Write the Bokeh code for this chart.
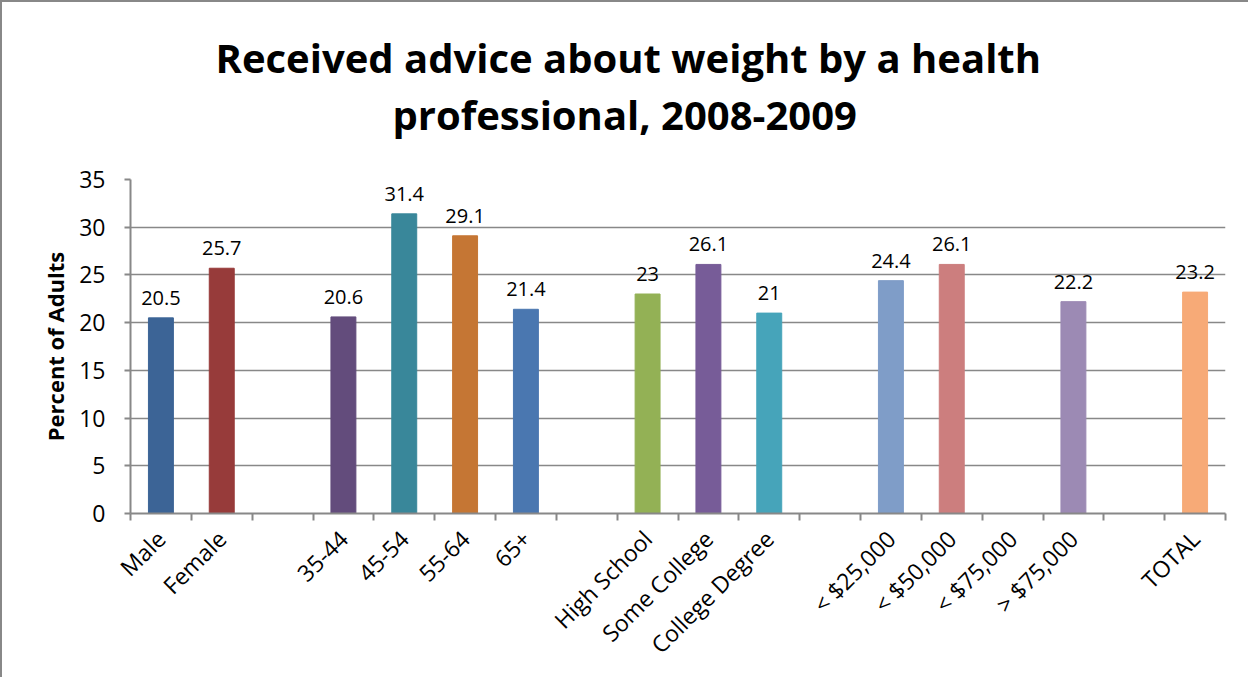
import math
from bokeh.plotting import figure
from bokeh.models import ColumnDataSource, FixedTicker, Title, LabelSet, Range1d
from bokeh.core.properties import value
from bokeh.embed import file_html
from bokeh.resources import INLINE

categories = ["Male", "Female", "", "35-44", "45-54", "55-64", "65+", "",
              "High School", "Some College", "College Degree", "",
              "< $25,000", "< $50,000", "< $75,000", "> $75,000", "", "TOTAL"]
percent = [20.5, 25.7, None, 20.6, 31.4, 29.1, 21.4, None,
           23, 26.1, 21, None,
           24.4, 26.1, None, 22.2, None, 23.2]
colors = ["#3C6496", "#973B3A", None, "#634C7C", "#39879A", "#C57634", "#4A77B0", None,
          "#93B155", "#775C98", "#46A4BA", None,
          "#7F9DC8", "#CC7E7E", None, "#9C8AB4", None, "#F7AA77"]
title_lines = ["Received advice about weight by a health", "professional, 2008-2009"]

y_ticks = [0, 5, 10, 15, 20, 25, 30, 35]

xs, ys, cs, labels = [], [], [], []
for i, v in enumerate(percent):
    if v is not None:
        xs.append(i)
        ys.append(v)
        cs.append(colors[i])
        labels.append(f"{v:g}")
src = ColumnDataSource(dict(x=xs, y=ys, color=cs, label=labels))

FONT = "Open Sans"
GRAY = "#888888"

p = figure(width=1248, height=677, output_backend="svg", toolbar_location=None,
           x_range=Range1d(-0.5, len(categories) - 0.5), y_range=Range1d(0, 35),
           min_border_left=128, min_border_right=25, min_border_top=177,
           min_border_bottom=166)
p.styles = {"border-left": "2px solid #888888", "border-top": "2px solid #888888"}
p.outline_line_color = None
p.background_fill_color = "white"
p.border_fill_color = "white"

p.vbar(x="x", top="y", width=0.41, color="color", source=src)

p.add_layout(LabelSet(x="x", y="y", text="label", source=src, text_align="center",
                      text_baseline="bottom", y_offset=13, text_font=value(FONT),
                      text_font_size=value("20px"), text_color=value("black")))

# title: spacer next to the frame, then line 2, then line 1 on top
p.add_layout(Title(text="\u00a0", align="left", text_font=FONT, text_font_size="10px",
                   text_color="white", standoff=22), "above")
p.add_layout(Title(text=title_lines[1], align="left", offset=262,
                   text_font=FONT, text_font_size="40px", text_font_style="bold",
                   text_color="black", standoff=0), "above")
p.add_layout(Title(text=title_lines[0], align="left", offset=85,
                   text_font=FONT, text_font_size="40px", text_font_style="bold",
                   text_color="black", standoff=0), "above")

# x axis
p.xaxis.ticker = FixedTicker(ticks=list(range(len(categories))),
                             minor_ticks=[i - 0.5 for i in range(len(categories) + 1)])
p.xaxis.major_label_overrides = {i: c for i, c in enumerate(categories)}
p.xaxis.major_label_orientation = math.pi / 4
p.xaxis.major_tick_out = 0
p.xaxis.major_tick_in = 0
p.xaxis.minor_tick_out = 7
p.xaxis.minor_tick_in = 0
p.xaxis.minor_tick_line_color = GRAY
p.xaxis.minor_tick_line_width = 2
p.xaxis.axis_line_color = GRAY
p.xaxis.axis_line_width = 2
p.xaxis.major_label_text_font = FONT
p.xaxis.major_label_text_font_size = "23px"
p.xaxis.major_label_text_color = "black"
p.xaxis.major_label_standoff = 14

# y axis
p.yaxis.ticker = FixedTicker(ticks=y_ticks, minor_ticks=[])
p.yaxis.axis_label = "Percent of Adults"
p.yaxis.axis_label_text_font = FONT
p.yaxis.axis_label_text_font_size = "22px"
p.yaxis.axis_label_text_font_style = "bold"
p.yaxis.axis_label_text_color = "black"
p.yaxis.axis_label_standoff = 6
p.yaxis.major_tick_out = 6
p.yaxis.major_tick_in = 0
p.yaxis.major_tick_line_color = GRAY
p.yaxis.major_tick_line_width = 2
p.yaxis.axis_line_color = GRAY
p.yaxis.axis_line_width = 2
p.yaxis.major_label_text_font = FONT
p.yaxis.major_label_text_font_size = "23px"
p.yaxis.major_label_text_color = "black"
p.yaxis.major_label_standoff = 19

p.xgrid.grid_line_color = None
p.ygrid.ticker = FixedTicker(ticks=y_ticks)
p.ygrid.grid_line_color = GRAY
p.ygrid.grid_line_width = 1.5

open("out.html", "w").write(file_html(p, INLINE))
